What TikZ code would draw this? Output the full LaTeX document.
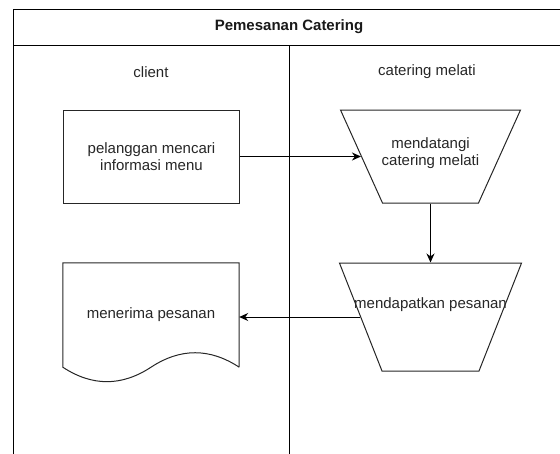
\documentclass[tikz,border=0pt]{standalone}
\usepackage{fontspec}
\setmainfont{Liberation Sans}
\usetikzlibrary{arrows.meta,calc,shapes.geometric}
\def\flatlabel#1#2{\raisebox{#1}[0pt][0pt]{\makebox[0pt]{\begin{tabular}{@{}c@{}}#2\end{tabular}}}}
\tikzset{
  lane/.style={line width=1pt, draw=black},
  lanetitle/.style={font=\fontsize{15}{17}\selectfont, text=black!85},
  pooltitle/.style={font=\fontsize{15}{17}\selectfont\bfseries, text=black!90},
  box/.style={draw=black!85, line width=1pt, minimum width=176pt, minimum height=93pt, align=center,
    font=\fontsize{15}{17}\selectfont, text=black!85},
  trap/.style={draw=black!85, line width=1pt, trapezium, shape border rotate=180,
    minimum width=0pt, minimum height=0pt,
    font=\fontsize{15}{17}\selectfont, text=black!85},
  docbox/.style={minimum width=176pt, minimum height=104pt, inner sep=0pt,
    font=\fontsize{15}{17}\selectfont, text=black!85},
  docline/.style={draw=black!85, line width=1pt},
  flow/.style={line width=1pt, -{Stealth[length=9pt,width=8pt]}},
}
\begin{document}
\begin{tikzpicture}[x=1pt,y=-1pt]
%%%%% START %%%%%
\clip (0,0) rectangle (560,453);

\draw[lane] (13,470) -- (13,9) -- (580,9);
\draw[lane] (13,45) -- (580,45);
\draw[lane] (289,45) -- (289,470);

\node[pooltitle] (judul) at (289,27) {Pemesanan Catering};
\node[lanetitle] (client) at (151,72) {client};
\node[lanetitle] (melati) at (427,72) {catering melati};

\node[box] (cari) at (151.5,156.5) {pelanggan mencari\\informasi menu};
\node[trap, trapezium angle=65.7, inner xsep=48pt, inner ysep=46.5pt]
  (datang) at (430.5,156.5) {\flatlabel{-1pt}{mendatangi\\catering melati}};
\node[trap, trapezium angle=68.5, inner xsep=48.5pt, inner ysep=54pt]
  (dapat) at (430.5,317) {\flatlabel{8pt}{mendapatkan pesanan}};

\node[docbox] (terima) at (151,315) {menerima pesanan};
\draw[docline] (terima.south east) -- (terima.north east) -- (terima.north west) -- (terima.south west)
  .. controls ($(terima.south west)!0.1667!(terima.south east)+(0,19.3)$)
  and ($(terima.south west)!0.3333!(terima.south east)+(0,19.3)$) .. (terima.south)
  .. controls ($(terima.south west)!0.6667!(terima.south east)+(0,-19.3)$)
  and ($(terima.south west)!0.8333!(terima.south east)+(0,-19.3)$) .. (terima.south east);

\draw[flow] (cari) -- (datang);
\draw[flow] (datang) -- (dapat);
\draw[flow] (dapat) -- (dapat -| terima.east);
%%%%% END %%%%%
\end{tikzpicture}
\end{document}
